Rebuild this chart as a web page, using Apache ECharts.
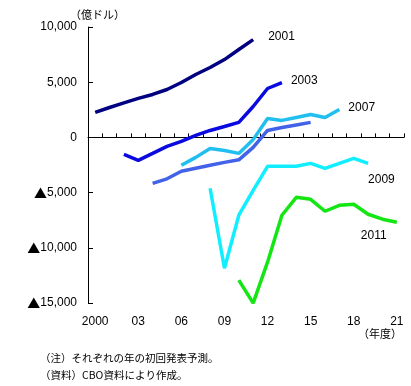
<!DOCTYPE html>
<html><head><meta charset="utf-8">
<script src="https://cdn.jsdelivr.net/npm/echarts@6/dist/echarts.min.js"></script>
<style>html,body{margin:0;padding:0;background:#fff}#c{width:411px;height:386px}</style>
</head><body><div id="c"></div>
<script>
const years = ['2000','2001','2002','2003','2004','2005','2006','2007','2008','2009','2010','2011','2012','2013','2014','2015','2016','2017','2018','2019','2020','2021'];
const tickLabels = ['2000','','','03','','','06','','','09','','','12','','','15','','','18','','','21'];
const yTickLabels = {'10000':'10,000','5000':'5,000','0':'0','-5000':'▲5,000','-10000':'▲10,000','-15000':'▲15,000'};

const start2001 = 2000;
const vals2001 = [2260,2710,3120,3530,3890,4340,4970,5700,6330,7050,7960,8860];
const start2003 = 2002;
const vals2003 = [-1540,-2080,-1450,-810,-360,180,630,990,1360,2800,4430,4970];
const start2005 = 2004;
const vals2005 = [-4160,-3750,-3070,-2800,-2530,-2260,-2030,-900,630,900,1130,1360];
const start2007 = 2006;
const vals2007 = [-2530,-1810,-1000,-1180,-1450,-200,1720,1540,1810,2080,1810,2530];
const start2009 = 2008;
const vals2009 = [-4610,-11850,-7050,-4790,-2620,-2620,-2620,-2350,-2800,-2350,-1900,-2350];
const start2011 = 2010;
const vals2011 = [-12930,-15010,-11300,-7050,-5430,-5610,-6690,-6150,-6060,-6960,-7410,-7690];

function pad(start, vals){
  const arr = years.map(()=> '-');
  vals.forEach((v,i)=>{ arr[start-2000+i] = v; });
  return arr;
}
const font = '"Liberation Sans", Arial, sans-serif';
const cjk = '"Noto Sans CJK JP", sans-serif';
function mk(name, start, vals, color, endLbl){
  const s = {
    name, type:'line', xAxisIndex:0, yAxisIndex:0,
    data: pad(start, vals), symbol:'none', smooth:false, connectNulls:false,
    lineStyle:{color, width:3.5}, itemStyle:{color},
    z: 3
  };
  if (endLbl) {
    s.endLabel = Object.assign({show:true, formatter:name, color:'#000', fontSize:12, fontFamily:font}, endLbl);
  }
  return s;
}
const series = [
  mk('2001', start2001, vals2001, '#000080', {distance:15, offset:[0,-3]}),
  mk('2003', start2003, vals2003, '#0a0ae0', {distance:9, offset:[0,-2]}),
  mk('2005', start2005, vals2005, '#4262e8', null),
  mk('2007', start2007, vals2007, '#20bff0', {distance:9, offset:[0,-2]}),
  mk('2009', start2009, vals2009, '#10eeff', {distance:0, offset:[0,16]}),
  mk('2011', start2011, vals2011, '#14e614', {distance:0, offset:[-36,13]})
];
const firstIdx2005 = start2005 - 2000;
series[2].label = {show:true, position:'left', distance:1, offset:[0,8], color:'#000', fontSize:12, fontFamily:font,
  formatter: p => p.dataIndex === firstIdx2005 ? '2005' : ''};

const chart = echarts.init(document.getElementById('c'), null, {renderer:'canvas'});
chart.setOption({
  animation:false,
  textStyle:{fontFamily:font},
  grid:{left:88, right:7, top:27, bottom:83},
  xAxis:[
    {type:'category', data:years, boundaryGap:true, position:'bottom',
     axisLine:{onZero:true, lineStyle:{color:'#000', width:1}},
     axisTick:{show:true, inside:true, length:4, interval:0, lineStyle:{color:'#000'}},
     axisLabel:{show:false}, splitLine:{show:false}},
    {type:'category', data:years, boundaryGap:true, position:'bottom', offset:0,
     axisLine:{show:false}, axisTick:{show:false}, splitLine:{show:false},
     axisLabel:{show:true, interval:0, margin:13, color:'#000', fontSize:12, fontFamily:font,
       formatter:(v,i)=>tickLabels[i]}}
  ],
  yAxis:{type:'value', min:-15000, max:10000, interval:5000,
    axisLine:{show:true, lineStyle:{color:'#000'}},
    axisTick:{show:true, inside:true, length:5, lineStyle:{color:'#000'}},
    splitLine:{show:false},
    axisLabel:{color:'#000', fontSize:12, margin:11, fontFamily:font,
      formatter:v=>{
        const t = yTickLabels[String(v)];
        return t.charAt(0)==='▲' ? '{tri|▲}' + t.slice(1) : t;
      },
      rich:{tri:{fontFamily:cjk, fontSize:13, color:'#000'}}}},
  graphic:[
    {type:'text', left:70, top:9, style:{text:'（億ドル）', fill:'#000', fontSize:11, fontFamily:cjk}},
    {type:'text', left:358, top:328, style:{text:'（年度）', fill:'#000', fontSize:11, fontFamily:cjk}},
    {type:'text', left:40, top:353, style:{text:'（注）それぞれの年の初回発表予測。', fill:'#000', fontSize:10.5, fontFamily:cjk}},
    {type:'text', left:40, top:370, style:{text:'（資料）CBO資料により作成。', fill:'#000', fontSize:10.5, fontFamily:cjk}}
  ],
  series
});
</script></body></html>
